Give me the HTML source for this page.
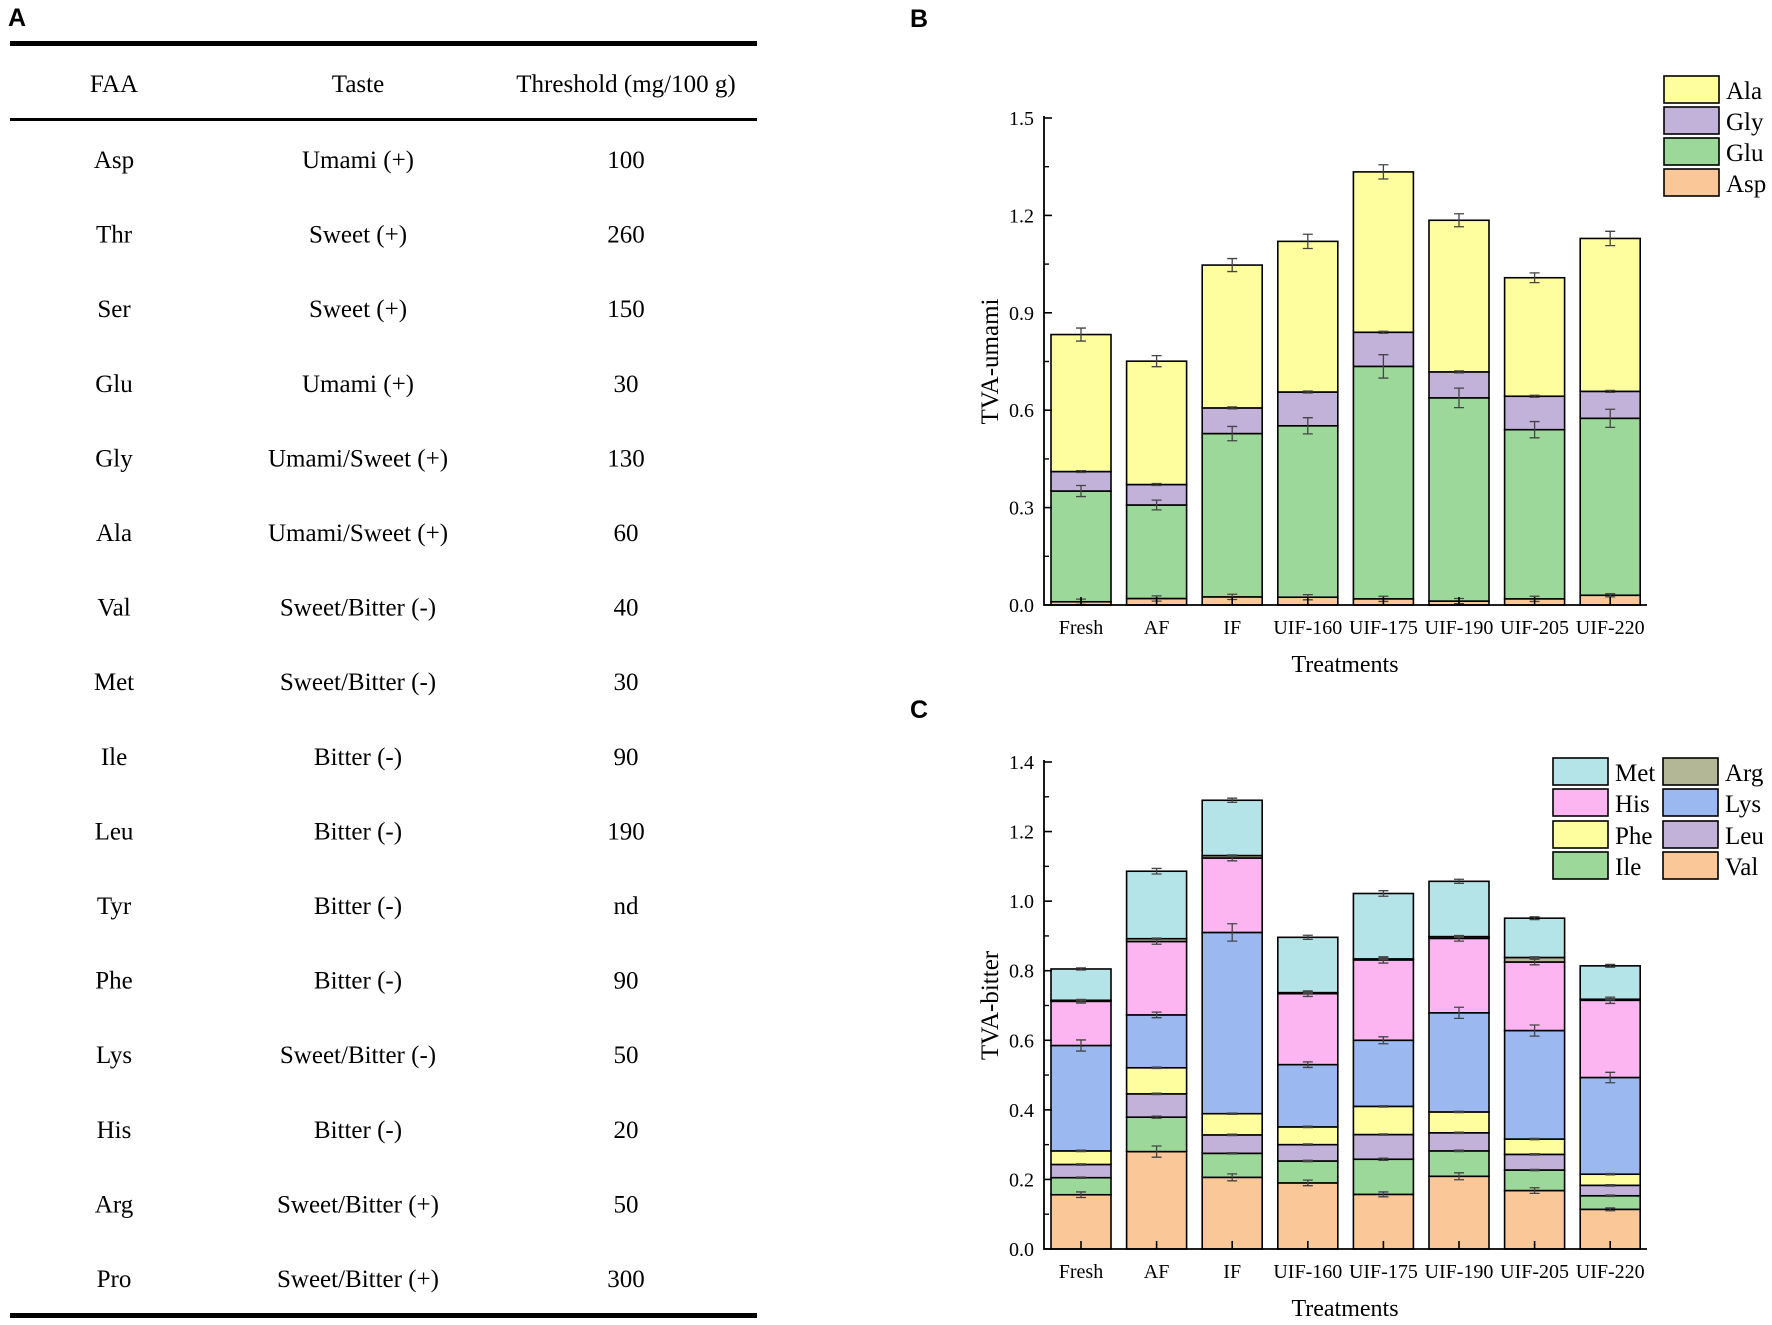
<!DOCTYPE html>
<html><head><meta charset="utf-8"><style>
body{margin:0;background:#fff;}
svg{display:block;font-family:"Liberation Serif",serif;}
</style></head><body>
<svg id="fig" width="1772" height="1325" viewBox="0 0 1772 1325">
<text x="8" y="26" font-family="Liberation Sans, sans-serif" font-weight="bold" font-size="25">A</text>
<text x="910" y="27" font-family="Liberation Sans, sans-serif" font-weight="bold" font-size="25">B</text>
<text x="910" y="718" font-family="Liberation Sans, sans-serif" font-weight="bold" font-size="25">C</text>
<g id="tableA"></g>
<g id="chartB"></g>
<g id="chartC"></g>
</svg>
<script>
const NS="http://www.w3.org/2000/svg";
function mk(tag,attrs,parent,txt){const e=document.createElementNS(NS,tag);for(const k in attrs)e.setAttribute(k,attrs[k]);if(txt!==undefined)e.textContent=txt;parent.appendChild(e);return e;}

// Table data
const faaNames=["Asp","Thr","Ser","Glu","Gly","Ala","Val","Met","Ile","Leu","Tyr","Phe","Lys","His","Arg","Pro"];
const faaTastes=["Umami (+)","Sweet (+)","Sweet (+)","Umami (+)","Umami/Sweet (+)","Umami/Sweet (+)","Sweet/Bitter (-)","Sweet/Bitter (-)","Bitter (-)","Bitter (-)","Bitter (-)","Bitter (-)","Sweet/Bitter (-)","Bitter (-)","Sweet/Bitter (+)","Sweet/Bitter (+)"];
const faaThresholds=["100","260","150","30","130","60","40","30","90","190","nd","90","50","20","50","300"];

const categories=["Fresh","AF","IF","UIF-160","UIF-175","UIF-190","UIF-205","UIF-220"];
// Chart B series
const umamiSeries=["Asp","Glu","Gly","Ala"];
const aspVals=[0.010,0.020,0.025,0.024,0.019,0.012,0.019,0.030];
const gluVals=[0.341,0.288,0.503,0.528,0.716,0.626,0.521,0.545];
const glyVals=[0.060,0.063,0.079,0.104,0.105,0.080,0.103,0.083];
const alaVals=[0.422,0.380,0.440,0.464,0.494,0.467,0.365,0.471];
const aspErr=[0.008,0.008,0.008,0.008,0.008,0.008,0.008,0.005];
const gluErr=[0.017,0.015,0.022,0.025,0.036,0.030,0.025,0.028];
const glyErr=[0.003,0.003,0.003,0.003,0.003,0.003,0.003,0.003];
const alaErr=[0.020,0.017,0.020,0.022,0.022,0.020,0.015,0.022];
const umamiTicks=["0.0","0.3","0.6","0.9","1.2","1.5"];
// Chart C series
const bitterSeries=["Val","Ile","Leu","Phe","Lys","His","Arg","Met"];
const valVals=[0.156,0.280,0.206,0.190,0.157,0.209,0.168,0.114];
const ileVals=[0.049,0.099,0.069,0.063,0.101,0.073,0.059,0.039];
const leuVals=[0.038,0.067,0.053,0.047,0.071,0.052,0.045,0.030];
const pheVals=[0.039,0.075,0.061,0.051,0.081,0.060,0.044,0.032];
const lysVals=[0.303,0.152,0.521,0.179,0.190,0.285,0.312,0.278];
const hisVals=[0.127,0.211,0.214,0.204,0.231,0.214,0.197,0.222];
const argVals=[0.003,0.008,0.007,0.003,0.003,0.005,0.013,0.003];
const metVals=[0.090,0.194,0.159,0.159,0.188,0.159,0.113,0.096];
const valErr=[0.008,0.016,0.010,0.008,0.007,0.010,0.008,0.004];
const ileErr=[0.002,0.003,0.002,0.002,0.003,0.002,0.002,0.002];
const leuErr=[0.002,0.002,0.002,0.002,0.002,0.002,0.002,0.002];
const pheErr=[0.002,0.002,0.002,0.002,0.002,0.002,0.002,0.002];
const lysErr=[0.016,0.008,0.025,0.008,0.010,0.016,0.016,0.015];
const hisErr=[0.005,0.008,0.008,0.008,0.009,0.008,0.008,0.009];
const argErr=[0.002,0.002,0.002,0.002,0.002,0.002,0.002,0.002];
const metErr=[0.003,0.008,0.006,0.006,0.008,0.006,0.004,0.004];
const bitterTicks=["0.0","0.2","0.4","0.6","0.8","1.0","1.2","1.4"];

// ---- Table ----
(function(){
  const g=document.getElementById('tableA');
  let e;
  e=mk('rect',{x:10,y:41,width:747,height:5,fill:'#000'},g);
  
  e=mk('rect',{x:10,y:118,width:747,height:3,fill:'#000'},g);
  
  e=mk('rect',{x:10,y:1313,width:747,height:5,fill:'#000'},g);
  
  const cx=[114,358,626];
  const hd=["FAA","Taste","Threshold (mg/100 g)"];
  hd.forEach((h,i)=>{const t=mk('text',{x:cx[i],y:92,'text-anchor':'middle','font-size':25},g,h);
    });
  faaNames.forEach((n,r)=>{
    const y=168+r*74.6;
    [n,faaTastes[r],faaThresholds[r]].forEach((v,i)=>{
      const t=mk('text',{x:cx[i],y:y,'text-anchor':'middle','font-size':25},g,v);
      });
  });
})();

function drawChart(gid,opt){
  const g=document.getElementById(gid);
  const x0=1044,x1=1647,y0=opt.y0,yTop=opt.yTop,vmax=opt.vmax;
  const yS=v=>y0-(v/vmax)*(y0-yTop);
  const xC=i=>1081+i*75.6;
  const bw=60;
  const cum=new Array(categories.length).fill(0);
  opt.vals.forEach((arr,s)=>{
    arr.forEach((v,i)=>{
      const b=cum[i],t=cum[i]+v;
      const r=mk('rect',{x:xC(i)-bw/2,y:yS(t),width:bw,height:yS(b)-yS(t),fill:opt.colors[s],stroke:'#000','stroke-width':1.6},g);
      
      
      cum[i]=t;
    });
  });
  const cum2=new Array(categories.length).fill(0);
  opt.vals.forEach((arr,s)=>{
    arr.forEach((v,i)=>{
      const t=cum2[i]+v;cum2[i]=t;
      const e=opt.errs[s][i];
      const ya=yS(t+e),yb=yS(t-e),xc=xC(i);
      const p=mk('path',{d:`M${xc-5},${ya}H${xc+5}M${xc},${ya}V${yb}M${xc-5},${yb}H${xc+5}`,stroke:'#444','stroke-width':1.3,fill:'none'},g);
      
      
    });
  });
  const ax=mk('path',{d:`M${x0},${yTop-2}V${y0}H${x1}`,stroke:'#000','stroke-width':1.8,fill:'none'},g);
  
  
  opt.ticks.forEach((lab,k)=>{
    const v=parseFloat(lab),y=yS(v);
    const tk=mk('path',{d:`M${x0},${y}H${x0+8}`,stroke:'#000','stroke-width':1.6},g);
    
    
    if(k<opt.ticks.length-1){
      const ym=yS(v+opt.step/2);
      const mt=mk('path',{d:`M${x0},${ym}H${x0+5}`,stroke:'#000','stroke-width':1.4},g);
      
      
    }
    const t=mk('text',{x:x0-10,y:y+7,'text-anchor':'end','font-size':20},g,lab);
    
    
  });
  categories.forEach((c,i)=>{
    const tk=mk('path',{d:`M${xC(i)},${y0}V${y0-8}`,stroke:'#000','stroke-width':1.6},g);
    
    
    const t=mk('text',{x:xC(i),y:y0+29,'text-anchor':'middle','font-size':20},g,c);
    
    
  });
  const xt=mk('text',{x:1345,y:y0+67,'text-anchor':'middle','font-size':24},g,'Treatments');
  
  
  const ym=(y0+yTop)/2;
  const yt=mk('text',{x:0,y:0,'text-anchor':'middle','font-size':25,transform:`translate(998,${ym}) rotate(-90)`},g,opt.ytitle);
  
  
  opt.legend.forEach(L=>{
    const r=mk('rect',{x:L.x,y:L.y,width:55,height:27,fill:L.color,stroke:'#000','stroke-width':1.6},g);
    
    
    const t=mk('text',{x:L.x+62,y:L.y+23,'font-size':25},g,L.name);
    
    
  });
}

const cAsp='#fac898',cGlu='#9dd89b',cGly='#c2b2da',cAla='#fefe9e',cIle='#9dd89b',cLeu='#c2b2da',cPhe='#fefe9e',cLys='#9bb8f0',cHis='#fcb5f1',cArg='#b4b795',cMet='#b4e3e8',cVal='#fac898';
drawChart('chartB',{y0:605,yTop:118,vmax:1.5,step:0.3,ticks:umamiTicks,ytitle:'TVA-umami',
  names:umamiSeries,vals:[aspVals,gluVals,glyVals,alaVals],errs:[aspErr,gluErr,glyErr,alaErr],colors:[cAsp,cGlu,cGly,cAla],
  legend:[{name:'Ala',color:cAla,x:1664,y:76},{name:'Gly',color:cGly,x:1664,y:107},{name:'Glu',color:cGlu,x:1664,y:138},{name:'Asp',color:cAsp,x:1664,y:169}]});
drawChart('chartC',{y0:1249,yTop:762,vmax:1.4,step:0.2,ticks:bitterTicks,ytitle:'TVA-bitter',
  names:bitterSeries,vals:[valVals,ileVals,leuVals,pheVals,lysVals,hisVals,argVals,metVals],
  errs:[valErr,ileErr,leuErr,pheErr,lysErr,hisErr,argErr,metErr],colors:[cVal,cIle,cLeu,cPhe,cLys,cHis,cArg,cMet],
  legend:[{name:'Met',color:cMet,x:1553,y:758},{name:'His',color:cHis,x:1553,y:789},{name:'Phe',color:cPhe,x:1553,y:821},{name:'Ile',color:cIle,x:1553,y:852},
          {name:'Arg',color:cArg,x:1663,y:758},{name:'Lys',color:cLys,x:1663,y:789},{name:'Leu',color:cLeu,x:1663,y:821},{name:'Val',color:cVal,x:1663,y:852}]});
</script>
</body></html>
